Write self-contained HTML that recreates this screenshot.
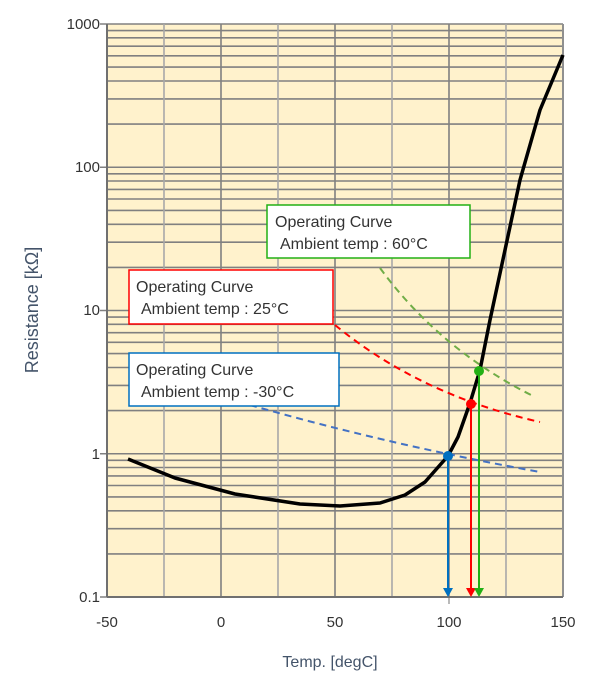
<!DOCTYPE html><html><head><style>body{margin:0;background:#fff}</style></head><body>
<svg width="600" height="680" xmlns="http://www.w3.org/2000/svg" font-family="Liberation Sans, sans-serif">
<rect x="107" y="24" width="456" height="573" fill="#fff2cc"/>
<path stroke="#808080" stroke-width="1.6" fill="none" d="
M107,553.9H563M107,528.7H563M107,510.8H563M107,496.9H563M107,485.5H563M107,475.9H563M107,467.5H563M107,460.3H563
M100,453.75H563M107,410.6H563M107,385.4H563M107,367.5H563M107,353.6H563M107,342.3H563M107,332.7H563M107,324.3H563M107,317.1H563
M100,310.5H563M107,267.4H563M107,242.2H563M107,224.3H563M107,210.4H563M107,199H563M107,189.4H563M107,181H563M107,173.8H563
M100,167.25H563M107,124.1H563M107,98.9H563M107,81H563M107,67.1H563M107,55.8H563M107,46.2H563M107,37.8H563M107,30.6H563
M100,24H563M100,597H107
M221,24V597M335,24V597M449,24V597"/>
<path stroke="#a8a8a8" stroke-width="1.6" fill="none" d="M164,24V597M278,24V597M392,24V597M506,24V597M449,597V604"/>
<line x1="107" y1="24" x2="107" y2="597" stroke="#707070" stroke-width="2"/>
<line x1="563" y1="24" x2="563" y2="597" stroke="#909090" stroke-width="2"/>
<line x1="107" y1="597" x2="563" y2="597" stroke="#707070" stroke-width="2"/>
<g font-size="15" fill="#333" text-anchor="end">
<text x="100" y="29">1000</text><text x="100" y="172">100</text><text x="100" y="315">10</text><text x="100" y="459">1</text><text x="100" y="602">0.1</text></g>
<g font-size="15" fill="#333" text-anchor="middle">
<text x="107" y="627">-50</text><text x="221" y="627">0</text><text x="335" y="627">50</text><text x="449" y="627">100</text><text x="563" y="627">150</text>
<text x="330" y="667" font-size="16" fill="#44546a">Temp. [degC]</text>
<text transform="translate(38,310) rotate(-90)" font-size="18" fill="#44546a">Resistance [kΩ]</text></g>
<g fill="none" stroke-width="2" stroke-dasharray="7,5">
<path d="M250,405 Q390,445 540,472" stroke="#4472c4"/>
<path d="M335,325 Q420,395 540,422" stroke="#ff0000"/>
<path d="M380,268 Q440,350 535,397" stroke="#70ad47"/></g>
<path d="M128,459 L175,478 L235,494 L300,504 L340,506 L380,503 L405,495 L425,482 L440,465 L448,456 L458,437 L470,403 L480,370 L490,320 L505,250 L520,180 L540,110 L563,55" fill="none" stroke="#000" stroke-width="3.5" stroke-linejoin="round"/>
<g stroke-width="2">
<line x1="448" y1="456" x2="448" y2="590" stroke="#0070c0"/><path d="M443,588 L453,588 L448,597Z" fill="#0070c0"/>
<line x1="471" y1="404" x2="471" y2="590" stroke="#ff0000"/><path d="M466,588 L476,588 L471,597Z" fill="#ff0000"/>
<line x1="479" y1="371" x2="479" y2="590" stroke="#22b014"/><path d="M474,588 L484,588 L479,597Z" fill="#22b014"/></g>
<circle cx="448" cy="456" r="5" fill="#0070c0"/><circle cx="471" cy="404" r="5" fill="#ff0000"/><circle cx="479" cy="371" r="5" fill="#22b014"/>
<g font-size="16" fill="#333">
<rect x="267" y="205" width="203" height="53" fill="#fff" stroke="#22b014" stroke-width="1.5"/>
<text x="275" y="227">Operating Curve</text><text x="280" y="249">Ambient temp : 60°C</text>
<rect x="129" y="270" width="204" height="54" fill="#fff" stroke="#ff0000" stroke-width="1.5"/>
<text x="136" y="292">Operating Curve</text><text x="141" y="314">Ambient temp : 25°C</text>
<rect x="129" y="353" width="210" height="53" fill="#fff" stroke="#0070c0" stroke-width="1.5"/>
<text x="136" y="375">Operating Curve</text><text x="141" y="397">Ambient temp : -30°C</text></g>
</svg></body></html>
